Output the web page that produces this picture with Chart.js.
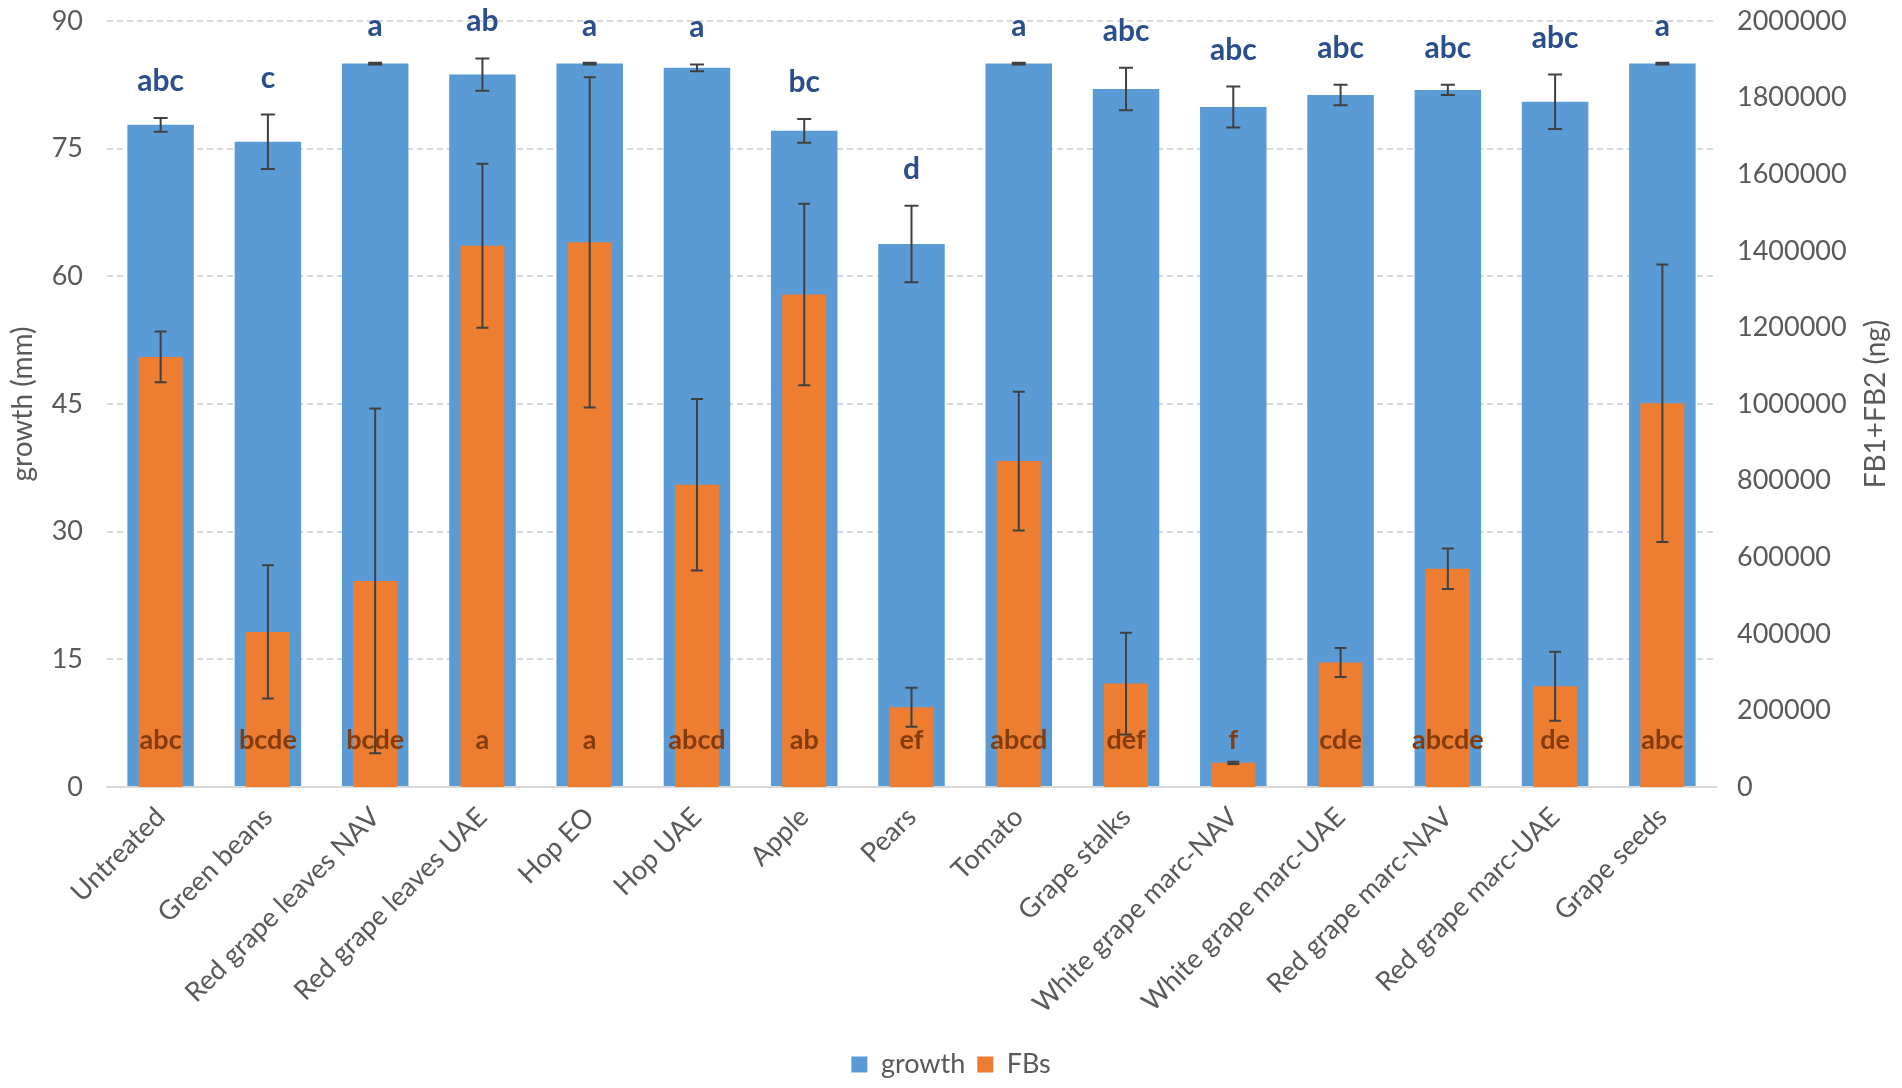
<!DOCTYPE html>
<html lang="en">
<head>
    <meta charset="UTF-8">
    <title>Growth and FB1+FB2</title>
    <script src="https://cdn.jsdelivr.net/npm/chart.js"></script>
    <style>
        body {
            margin: 0;
            padding: 0;
            background: #fff;
        }
        #chart {
            display: block;
        }
    </style>
</head>
<body>
    <canvas id="chart" width="1902" height="1088"></canvas>

    <script>
        const categories = [
            'Untreated', 'Green beans', 'Red grape leaves NAV', 'Red grape leaves UAE',
            'Hop EO', 'Hop UAE', 'Apple', 'Pears', 'Tomato', 'Grape stalks',
            'White grape marc-NAV', 'White grape marc-UAE', 'Red grape marc-NAV',
            'Red grape marc-UAE', 'Grape seeds'
        ];

        // growth (mm), left axis
        const growth = [77.8, 75.8, 85.0, 83.7, 85.0, 84.5, 77.1, 63.8, 85.0, 82.0, 79.9, 81.3, 81.9, 80.5, 85.0];
        const growthErr = [0.8, 3.2, 0.1, 1.9, 0.1, 0.4, 1.4, 4.5, 0.1, 2.5, 2.4, 1.2, 0.6, 3.2, 0.1];
        const growthLetters = ['abc', 'c', 'a', 'ab', 'a', 'a', 'bc', 'd', 'a', 'abc', 'abc', 'abc', 'abc', 'abc', 'a'];

        // FB1+FB2 (ng), right axis
        const fbs = [1123000, 405000, 538000, 1413000, 1422000, 789000, 1286000, 208000, 851000, 270000, 63000, 325000, 570000, 263000, 1002000];
        const fbsErr = [66000, 174000, 450000, 214000, 431000, 224000, 237000, 51000, 181000, 133000, 3000, 38000, 53000, 90000, 362000];
        const fbLetters = ['abc', 'bcde', 'bcde', 'a', 'a', 'abcd', 'ab', 'ef', 'abcd', 'def', 'f', 'cde', 'abcde', 'de', 'abc'];

        const growthTicks = [0, 15, 30, 45, 60, 75, 90];
        const fbTicks = [0, 200000, 400000, 600000, 800000, 1000000, 1200000, 1400000, 1600000, 1800000, 2000000];

        const FONT = "Lato, 'Open Sans', sans-serif";
        const GREY = '#595959';

        // error bars, significance letters and rotated axis titles
        const overlayPlugin = {
            id: 'overlay',
            afterDatasetsDraw(chart) {
                const ctx = chart.ctx;
                const x = chart.scales.x;
                const yL = chart.scales.y;
                const yR = chart.scales.y1;

                ctx.save();
                ctx.strokeStyle = '#404040';
                ctx.lineWidth = 2;
                const bar = (px, top, bottom, cap) => {
                    ctx.beginPath();
                    ctx.moveTo(px, top);
                    ctx.lineTo(px, bottom);
                    ctx.moveTo(px - cap, top);
                    ctx.lineTo(px + cap, top);
                    ctx.moveTo(px - cap, bottom);
                    ctx.lineTo(px + cap, bottom);
                    ctx.stroke();
                };
                categories.forEach((c, i) => {
                    const px = x.getPixelForValue(i);
                    bar(px, yL.getPixelForValue(growth[i] + growthErr[i]), yL.getPixelForValue(growth[i] - growthErr[i]), 7);
                    bar(px, yR.getPixelForValue(fbs[i] + fbsErr[i]), yR.getPixelForValue(fbs[i] - fbsErr[i]), 6);
                });

                ctx.textAlign = 'center';
                ctx.font = 'bold 30px ' + FONT;
                ctx.fillStyle = '#2B4E8C';
                ctx.textBaseline = 'alphabetic';
                categories.forEach((c, i) => {
                    const px = x.getPixelForValue(i);
                    ctx.fillText(growthLetters[i], px, yL.getPixelForValue(growth[i] + growthErr[i]) - 27);
                });

                ctx.font = 'bold 27px ' + FONT;
                ctx.fillStyle = '#843C0C';
                ctx.textBaseline = 'middle';
                categories.forEach((c, i) => {
                    ctx.fillText(fbLetters[i], x.getPixelForValue(i), yL.getPixelForValue(5.5));
                });

                // axis titles, both reading bottom to top
                const midY = (chart.chartArea.top + chart.chartArea.bottom) / 2;
                ctx.font = '28px ' + FONT;
                ctx.fillStyle = GREY;
                ctx.textBaseline = 'middle';
                ctx.translate(23, midY);
                ctx.rotate(-Math.PI / 2);
                ctx.fillText('growth (mm)', 0, 0);
                ctx.restore();

                ctx.save();
                ctx.font = '28px ' + FONT;
                ctx.fillStyle = GREY;
                ctx.textAlign = 'center';
                ctx.textBaseline = 'middle';
                ctx.translate(1876, midY);
                ctx.rotate(-Math.PI / 2);
                ctx.fillText('FB1+FB2 (ng)', 0, 0);
                ctx.restore();
            }
        };

        new Chart(document.getElementById('chart'), {
            type: 'bar',
            data: {
                labels: categories,
                datasets: [
                    {
                        label: 'growth',
                        data: growth,
                        yAxisID: 'y',
                        backgroundColor: '#5B9BD5',
                        grouped: false,
                        categoryPercentage: 1,
                        barPercentage: 0.62,
                        order: 2
                    },
                    {
                        label: 'FBs',
                        data: fbs,
                        yAxisID: 'y1',
                        backgroundColor: '#ED7D31',
                        grouped: false,
                        categoryPercentage: 1,
                        barPercentage: 0.41,
                        order: 1
                    }
                ]
            },
            options: {
                responsive: false,
                animation: false,
                layout: { padding: { top: 21, bottom: 0, left: 0, right: 0 } },
                plugins: {
                    legend: {
                        position: 'bottom',
                        labels: {
                            font: { family: FONT, size: 27 },
                            color: GREY,
                            boxWidth: 16,
                            boxHeight: 16,
                            padding: 12,
                            sort: (a, b) => a.datasetIndex - b.datasetIndex
                        }
                    },
                    tooltip: { enabled: false }
                },
                scales: {
                    x: {
                        grid: { display: false },
                        border: { display: true, color: '#D9D9D9', width: 2 },
                        ticks: {
                            font: { family: FONT, size: 27 },
                            color: GREY,
                            minRotation: 45,
                            maxRotation: 45,
                            padding: 6
                        },
                        afterFit: s => { s.height = 252; }
                    },
                    y: {
                        position: 'left',
                        min: 0,
                        max: 90,
                        afterBuildTicks: s => { s.ticks = growthTicks.map(v => ({ value: v })); },
                        grid: {
                            color: ctx => ctx.tick && ctx.tick.value === 0 ? 'rgba(0,0,0,0)' : '#D9D9D9',
                            lineWidth: 2,
                            drawTicks: false
                        },
                        border: { display: false, dash: [6, 4] },
                        ticks: {
                            font: { family: FONT, size: 27 },
                            color: GREY,
                            padding: 24
                        },
                        afterFit: s => { s.width = 107; s.paddingTop = 0; s.paddingBottom = 0; }
                    },
                    y1: {
                        position: 'right',
                        min: 0,
                        max: 2000000,
                        afterBuildTicks: s => { s.ticks = fbTicks.map(v => ({ value: v })); },
                        grid: { display: false, drawTicks: false },
                        border: { display: false },
                        ticks: {
                            font: { family: FONT, size: 27 },
                            color: GREY,
                            padding: 21,
                            callback: v => String(v)
                        },
                        afterFit: s => { s.width = 186; s.paddingTop = 0; s.paddingBottom = 0; }
                    }
                }
            },
            plugins: [overlayPlugin]
        });
    </script>
</body>
</html>
